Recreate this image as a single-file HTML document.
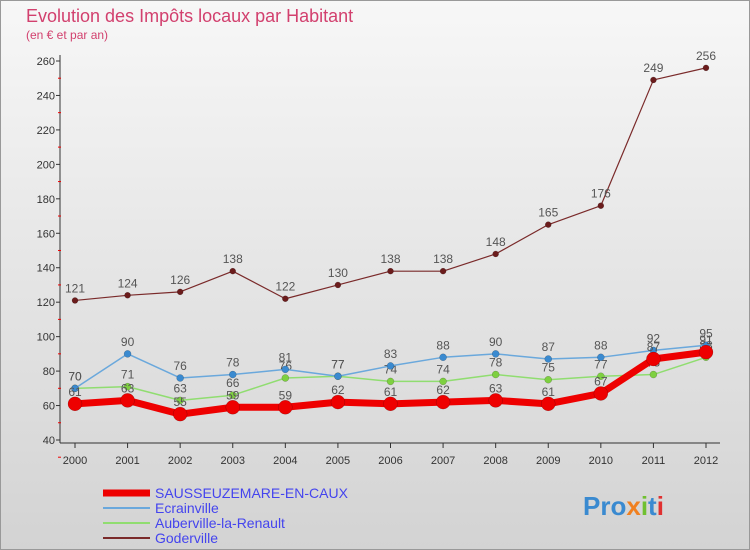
<!DOCTYPE html>
<html><head><meta charset="utf-8"><style>
body{margin:0;width:750px;height:550px;overflow:hidden;font-family:"Liberation Sans",sans-serif}
#root{position:relative;width:748px;height:548px;border:1px solid #999;background:linear-gradient(#f7f7f7,#d3d3d3)}
</style></head><body>
<div id="root">
<svg id="chart" width="750" height="550" style="position:absolute;left:-1px;top:-1px"></svg>
</div>
<script>
const years=[2000,2001,2002,2003,2004,2005,2006,2007,2008,2009,2010,2011,2012];
const sausseuzemare=[61,63,55,59,59,62,61,62,63,61,67,87,91];
const ecrainville=[70,90,76,78,81,77,83,88,90,87,88,92,95];
const auberville=[70,71,63,66,76,77,74,74,78,75,77,78,88];
const goderville=[121,124,126,138,122,130,138,138,148,165,176,249,256];
const yTicks=[40,60,80,100,120,140,160,180,200,220,240,260];
const NS="http://www.w3.org/2000/svg";
const svg=document.getElementById('chart');
function X(i){return 75+i*(706-75)/12;}
function Y(v){return 440-(v-40)*(379/220);}
function el(t,a,p){const e=document.createElementNS(NS,t);for(const k in a)e.setAttribute(k,a[k]);(p||svg).appendChild(e);return e;}
function txt(x,y,s,a,p){const e=el('text',Object.assign({x:x,y:y},a||{}),p);e.textContent=s;return e;}
let t=txt(26,22,'Evolution des Impôts locaux par Habitant',{fill:'#d2406e','font-size':18});

t=txt(26,39,'(en € et par an)',{fill:'#d2406e','font-size':12});

let a=el('line',{x1:60,y1:55,x2:60,y2:443,stroke:'#333'});
a=el('line',{x1:60,y1:443,x2:720,y2:443,stroke:'#333'});
yTicks.forEach(v=>{const y=Y(v);
 el('line',{x1:56,y1:y,x2:60,y2:y,stroke:'#333'});
 el('line',{x1:58,y1:y+17.2,x2:61,y2:y+17.2,stroke:'#e00'});
 const l=txt(55,y+4,String(v),{'text-anchor':'end','font-size':11,fill:'#333'});
 });
years.forEach((yr,i)=>{el('line',{x1:X(i),y1:443,x2:X(i),y2:448,stroke:'#333'});
 const l=txt(X(i),464,String(yr),{'text-anchor':'middle','font-size':11,fill:'#333'});
 });
function series(d,color,w,r,name,dot){
 const g=el('g',{});
 el('polyline',{points:d.map((v,i)=>X(i)+','+Y(v)).join(' '),fill:'none',stroke:color,'stroke-width':w,'stroke-linejoin':'round'},g);
 d.forEach((v,i)=>{const c=el('circle',{cx:X(i),cy:Y(v),r:r,fill:dot,stroke:'rgba(0,0,0,0.3)','stroke-width':0.5},g);
  
  const l=txt(X(i),Y(v)-8,String(v),{'text-anchor':'middle','font-size':12,fill:'#555'},g);
  });
}
series(goderville,'#7a2a2a',1.2,3,'goderville-series','#6b1c1c');
series(auberville,'#90dd70',1.5,3.5,'auberville-series','#7ed040');
series(ecrainville,'#6aa8dc',1.5,3.5,'ecrainville-series','#3a8ad0');
series(sausseuzemare,'#ee0000',7,7,'sausseuzemare-series','#ee0000');
const leg=[['SAUSSEUZEMARE-EN-CAUX','#ee0000',7],['Ecrainville','#6aa8dc',2],['Auberville-la-Renault','#90dd70',2],['Goderville','#7a2a2a',2]];
leg.forEach((L,i)=>{const y=493+i*15;const g=el('g',{});
 el('line',{x1:103,y1:y,x2:150,y2:y,stroke:L[1],'stroke-width':L[2]},g);
 txt(155,y+5,L[0],{'font-size':14,fill:'#4444ee'},g);});
const logo=el('text',{x:583,y:515,'font-size':26,'font-weight':'bold'});

[['Pro','#3a8ad0'],['x','#f08020'],['i','#70c030'],['t','#3a8ad0'],['i','#e03030']].forEach(p=>{const s=el('tspan',{fill:p[1]},logo);s.textContent=p[0];});
</script>
</body></html>
